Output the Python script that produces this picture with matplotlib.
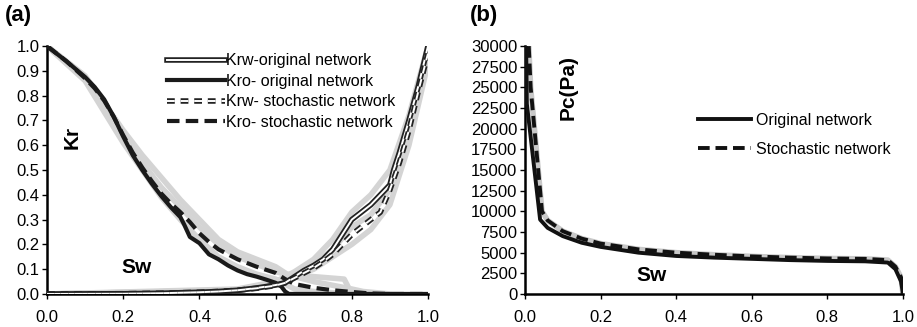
import matplotlib.pyplot as plt
import matplotlib.patheffects as pe

plt.rcParams['font.family'] = ['Liberation Sans', 'DejaVu Sans']

# ---- panel (a): relative permeability ----
sw_kro_orig = [0.0, 0.05, 0.1, 0.125, 0.15, 0.175, 0.2, 0.225, 0.25, 0.275, 0.3, 0.325, 0.35, 0.36,
               0.375, 0.4, 0.425, 0.45, 0.475, 0.5, 0.525, 0.55, 0.575, 0.6, 0.615, 0.625, 0.635, 0.7, 0.8, 0.9, 1.0]
kro_orig = [1.0, 0.94, 0.875, 0.835, 0.785, 0.715, 0.635, 0.56, 0.5, 0.445, 0.395, 0.35, 0.31, 0.28,
            0.23, 0.205, 0.16, 0.14, 0.115, 0.095, 0.08, 0.07, 0.058, 0.045, 0.03, 0.01, 0.0, 0.0, 0.0, 0.0, 0.0]

sw_kro_stoch = [0.0, 0.05, 0.1, 0.125, 0.15, 0.175, 0.2, 0.225, 0.25, 0.275, 0.3, 0.325, 0.35, 0.375,
                0.4, 0.425, 0.45, 0.475, 0.5, 0.55, 0.6, 0.625, 0.65, 0.7, 0.75, 0.8, 0.85, 0.9, 1.0]
kro_stoch = [1.0, 0.94, 0.87, 0.83, 0.78, 0.715, 0.64, 0.57, 0.51, 0.455, 0.405, 0.365, 0.33, 0.29,
             0.245, 0.21, 0.18, 0.16, 0.14, 0.11, 0.085, 0.06, 0.04, 0.025, 0.015, 0.008, 0.002, 0.0, 0.0]

sw_krw_orig = [0.0, 0.2, 0.3, 0.4, 0.45, 0.5, 0.55, 0.6, 0.625, 0.65, 0.675, 0.7, 0.725, 0.75, 0.775,
               0.8, 0.825, 0.85, 0.875, 0.9, 0.91, 0.925, 0.95, 0.975, 1.0]
krw_orig = [0.0, 0.001, 0.003, 0.007, 0.01, 0.015, 0.024, 0.036, 0.045, 0.07, 0.095, 0.115, 0.14, 0.18, 0.24,
            0.3, 0.33, 0.36, 0.4, 0.44, 0.5, 0.57, 0.7, 0.84, 1.0]

sw_krw_stoch = [0.0, 0.2, 0.3, 0.4, 0.45, 0.5, 0.55, 0.6, 0.625, 0.65, 0.675, 0.7, 0.725, 0.75, 0.775,
                0.8, 0.825, 0.85, 0.875, 0.9, 0.925, 0.95, 0.975, 1.0]
krw_stoch = [0.0, 0.001, 0.003, 0.007, 0.01, 0.015, 0.023, 0.034, 0.045, 0.065, 0.085, 0.105, 0.13, 0.16, 0.2,
             0.24, 0.27, 0.3, 0.33, 0.42, 0.53, 0.66, 0.82, 0.97]

# grey realisations of the stochastic networks
sw_grey_kro = [
    [0.0, 0.1, 0.2, 0.25, 0.3, 0.35, 0.4, 0.45, 0.5, 0.55, 0.6, 0.63, 0.7, 0.78, 0.8, 0.85],
    [0.0, 0.1, 0.2, 0.25, 0.3, 0.35, 0.4, 0.45, 0.5, 0.55, 0.6, 0.7, 0.8, 0.83, 0.9],
    [0.0, 0.1, 0.2, 0.25, 0.3, 0.35, 0.4, 0.45, 0.5, 0.55, 0.6, 0.65, 0.7, 0.8],
]
grey_kro = [
    [1.0, 0.88, 0.66, 0.56, 0.47, 0.38, 0.3, 0.22, 0.17, 0.14, 0.11, 0.08, 0.07, 0.06, 0.0, 0.0],
    [1.0, 0.87, 0.64, 0.53, 0.43, 0.35, 0.27, 0.2, 0.15, 0.12, 0.09, 0.05, 0.02, 0.01, 0.0],
    [1.0, 0.86, 0.61, 0.5, 0.39, 0.3, 0.22, 0.15, 0.11, 0.08, 0.06, 0.02, 0.01, 0.0],
]
sw_grey_krw = [
    [0.0, 0.5, 0.6, 0.65, 0.7, 0.75, 0.8, 0.85, 0.9, 0.95, 1.0],
    [0.0, 0.5, 0.6, 0.65, 0.7, 0.75, 0.8, 0.85, 0.9, 0.95, 1.0],
    [0.0, 0.5, 0.6, 0.65, 0.7, 0.75, 0.8, 0.85, 0.9, 0.95, 1.0],
]
grey_krw = [
    [0.0, 0.02, 0.05, 0.09, 0.14, 0.22, 0.33, 0.4, 0.5, 0.72, 1.0],
    [0.0, 0.015, 0.04, 0.07, 0.1, 0.15, 0.2, 0.26, 0.36, 0.6, 0.93],
    [0.0, 0.015, 0.04, 0.08, 0.12, 0.18, 0.27, 0.32, 0.42, 0.66, 0.96],
]

# ---- panel (b): capillary pressure ----
sw_pc_orig = [0.003, 0.005, 0.04, 0.06, 0.1, 0.15, 0.2, 0.3, 0.4, 0.5, 0.6, 0.7, 0.8, 0.9, 0.96, 0.98, 0.995, 1.0]
pc_orig = [30000, 23000, 9000, 8000, 7000, 6200, 5700, 5000, 4600, 4400, 4250, 4100, 4000, 3950, 3800, 3000, 1500, 0]

sw_pc_stoch = [0.01, 0.015, 0.045, 0.06, 0.1, 0.15, 0.2, 0.3, 0.4, 0.5, 0.6, 0.7, 0.8, 0.9, 0.96, 0.98, 0.995, 1.0]
pc_stoch = [30000, 25000, 10000, 8900, 7600, 6700, 6100, 5400, 5000, 4750, 4550, 4400, 4300, 4250, 4100, 3300, 2000, 0]

xticks = [0.0, 0.2, 0.4, 0.6, 0.8, 1.0]
kr_ticks = [i / 10 for i in range(11)]
pc_ticks = list(range(0, 30001, 2500))

fig = plt.figure(figsize=(9.17, 3.27), dpi=100)
ax1 = fig.add_axes([0.0513, 0.101, 0.4154, 0.758])
ax2 = fig.add_axes([0.5725, 0.101, 0.4122, 0.758])

double_edge = [pe.Stroke(linewidth=4.0, foreground='#222222'), pe.Normal()]

for xs, ys in zip(sw_grey_kro, grey_kro):
    ax1.plot(xs, ys, color='#d4d4d4', lw=4, zorder=1, solid_capstyle='round', solid_joinstyle='round')
for xs, ys in zip(sw_grey_krw, grey_krw):
    ax1.plot(xs, ys, color='#d4d4d4', lw=4, zorder=1, solid_capstyle='round', solid_joinstyle='round')

ax1.plot(sw_krw_orig, krw_orig, color='white', lw=1.4, path_effects=double_edge,
         label='Krw-original network', zorder=4)
ax1.plot(sw_kro_orig, kro_orig, color='#1a1a1a', lw=3, label='Kro- original network', zorder=3,
         solid_joinstyle='round')
ax1.plot(sw_krw_stoch, krw_stoch, color='white', lw=1.4, ls=(0, (4, 3)),
         path_effects=double_edge, label='Krw- stochastic network', zorder=4)
ax1.plot(sw_kro_stoch, kro_stoch, color='#1a1a1a', lw=3, ls=(0, (3, 1.5)),
         label='Kro- stochastic network', zorder=3)

ax1.set_xlim(0, 1.0)
ax1.set_ylim(0, 1.0)
ax1.set_xticks(xticks)
ax1.set_xticklabels(['%.1f' % v for v in xticks])
ax1.set_yticks(kr_ticks)
ax1.set_yticklabels(['%.1f' % v for v in kr_ticks])
ax1.text(0.065, 0.63, 'Kr', rotation=90, fontsize=15, fontweight='bold', ha='center', va='center')
ax1.text(0.235, 0.105, 'Sw', fontsize=15, fontweight='bold', ha='center', va='center')
ax1.legend(loc='upper left', bbox_to_anchor=(0.29, 1.01), frameon=False, fontsize=11.5,
           handlelength=3.6, handletextpad=0.1, labelspacing=0.35, borderaxespad=0.2)
fig.text(0.005, 0.953, '(a)', fontsize=16, fontweight='bold', ha='left', va='center')

ax2.plot(sw_pc_stoch, pc_stoch, color='#c8c8c8', lw=4, zorder=1)
ax2.plot(sw_pc_orig, pc_orig, color='#111111', lw=2.8, label='Original network', zorder=3)
ax2.plot(sw_pc_stoch, pc_stoch, color='#111111', lw=2.8, ls=(0, (3, 1.5)),
         label='Stochastic network', zorder=3)
ax2.set_xlim(0, 1.0)
ax2.set_ylim(0, 30000)
ax2.set_xticks(xticks)
ax2.set_xticklabels(['%.1f' % v for v in xticks])
ax2.set_yticks(pc_ticks)
ax2.set_yticklabels([str(v) for v in pc_ticks])
ax2.text(0.115, 25000, 'Pc(Pa)', rotation=90, fontsize=15, fontweight='bold', ha='center', va='center')
ax2.text(0.335, 2200, 'Sw', fontsize=15, fontweight='bold', ha='center', va='center')
ax2.legend(loc='upper left', bbox_to_anchor=(0.42, 0.79), frameon=False, fontsize=11.5,
           handlelength=3.3, handletextpad=0.3, labelspacing=0.9)
fig.text(0.512, 0.953, '(b)', fontsize=16, fontweight='bold', ha='left', va='center')

for ax in (ax1, ax2):
    ax.spines['top'].set_visible(False)
    ax.spines['right'].set_visible(False)
    ax.spines['left'].set_linewidth(1.8)
    ax.spines['bottom'].set_linewidth(1.8)
    ax.tick_params(axis='both', labelsize=12, direction='out', length=3.5, width=1)
    ax.tick_params(axis='x', pad=8)
    ax.tick_params(axis='y', pad=2)

fig.savefig('out.png', dpi=100)
